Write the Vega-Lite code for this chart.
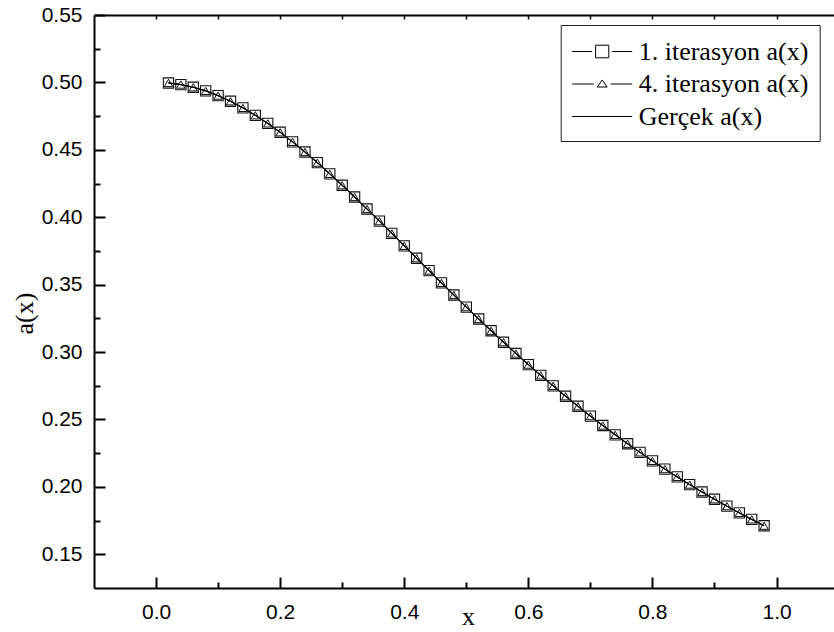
{
  "$schema": "https://vega.github.io/schema/vega-lite/v6.json",
  "width": 740,
  "height": 573,
  "autosize": "none",
  "padding": {"left": 94, "top": 15, "right": 0, "bottom": 44},
  "background": "white",
  "config": {
    "view": {"stroke": null},
    "axis": {
      "grid": false,
      "domainColor": "black",
      "domainWidth": 2,
      "tickColor": "black",
      "tickWidth": 2,
      "labelFont": "Liberation Sans",
      "labelFontSize": 21,
      "labelColor": "black",
      "titleFont": "Liberation Serif",
      "titleFontSize": 26,
      "titleFontWeight": "normal",
      "titleColor": "black"
    },
    "legend": {
      "labelColor": "black"
    }
  },
  "data": {
    "values": [
      {"x": 0.02, "iter1": 0.4996, "iter4": 0.4996, "gercek": 0.4996},
      {"x": 0.04, "iter1": 0.4984, "iter4": 0.4984, "gercek": 0.4984},
      {"x": 0.06, "iter1": 0.4964, "iter4": 0.4964, "gercek": 0.4964},
      {"x": 0.08, "iter1": 0.4937, "iter4": 0.4937, "gercek": 0.4937},
      {"x": 0.10, "iter1": 0.4902, "iter4": 0.4902, "gercek": 0.4902},
      {"x": 0.12, "iter1": 0.4860, "iter4": 0.4860, "gercek": 0.4860},
      {"x": 0.14, "iter1": 0.4811, "iter4": 0.4811, "gercek": 0.4811},
      {"x": 0.16, "iter1": 0.4756, "iter4": 0.4756, "gercek": 0.4756},
      {"x": 0.18, "iter1": 0.4696, "iter4": 0.4696, "gercek": 0.4696},
      {"x": 0.20, "iter1": 0.4630, "iter4": 0.4630, "gercek": 0.4630},
      {"x": 0.22, "iter1": 0.4559, "iter4": 0.4559, "gercek": 0.4559},
      {"x": 0.24, "iter1": 0.4484, "iter4": 0.4484, "gercek": 0.4484},
      {"x": 0.26, "iter1": 0.4405, "iter4": 0.4405, "gercek": 0.4405},
      {"x": 0.28, "iter1": 0.4322, "iter4": 0.4322, "gercek": 0.4322},
      {"x": 0.30, "iter1": 0.4237, "iter4": 0.4237, "gercek": 0.4237},
      {"x": 0.32, "iter1": 0.4150, "iter4": 0.4150, "gercek": 0.4150},
      {"x": 0.34, "iter1": 0.4061, "iter4": 0.4061, "gercek": 0.4061},
      {"x": 0.36, "iter1": 0.3971, "iter4": 0.3971, "gercek": 0.3971},
      {"x": 0.38, "iter1": 0.3880, "iter4": 0.3880, "gercek": 0.3880},
      {"x": 0.40, "iter1": 0.3788, "iter4": 0.3788, "gercek": 0.3788},
      {"x": 0.42, "iter1": 0.3696, "iter4": 0.3696, "gercek": 0.3696},
      {"x": 0.44, "iter1": 0.3604, "iter4": 0.3604, "gercek": 0.3604},
      {"x": 0.46, "iter1": 0.3513, "iter4": 0.3513, "gercek": 0.3513},
      {"x": 0.48, "iter1": 0.3423, "iter4": 0.3423, "gercek": 0.3423},
      {"x": 0.50, "iter1": 0.3333, "iter4": 0.3333, "gercek": 0.3333},
      {"x": 0.52, "iter1": 0.3245, "iter4": 0.3245, "gercek": 0.3245},
      {"x": 0.54, "iter1": 0.3158, "iter4": 0.3158, "gercek": 0.3158},
      {"x": 0.56, "iter1": 0.3073, "iter4": 0.3073, "gercek": 0.3073},
      {"x": 0.58, "iter1": 0.2989, "iter4": 0.2989, "gercek": 0.2989},
      {"x": 0.60, "iter1": 0.2907, "iter4": 0.2907, "gercek": 0.2907},
      {"x": 0.62, "iter1": 0.2827, "iter4": 0.2827, "gercek": 0.2827},
      {"x": 0.64, "iter1": 0.2749, "iter4": 0.2749, "gercek": 0.2749},
      {"x": 0.66, "iter1": 0.2672, "iter4": 0.2672, "gercek": 0.2672},
      {"x": 0.68, "iter1": 0.2598, "iter4": 0.2598, "gercek": 0.2598},
      {"x": 0.70, "iter1": 0.2525, "iter4": 0.2525, "gercek": 0.2525},
      {"x": 0.72, "iter1": 0.2455, "iter4": 0.2455, "gercek": 0.2455},
      {"x": 0.74, "iter1": 0.2386, "iter4": 0.2386, "gercek": 0.2386},
      {"x": 0.76, "iter1": 0.2320, "iter4": 0.2320, "gercek": 0.2320},
      {"x": 0.78, "iter1": 0.2256, "iter4": 0.2256, "gercek": 0.2256},
      {"x": 0.80, "iter1": 0.2193, "iter4": 0.2193, "gercek": 0.2193},
      {"x": 0.82, "iter1": 0.2132, "iter4": 0.2132, "gercek": 0.2132},
      {"x": 0.84, "iter1": 0.2074, "iter4": 0.2074, "gercek": 0.2074},
      {"x": 0.86, "iter1": 0.2017, "iter4": 0.2017, "gercek": 0.2017},
      {"x": 0.88, "iter1": 0.1962, "iter4": 0.1962, "gercek": 0.1962},
      {"x": 0.90, "iter1": 0.1908, "iter4": 0.1908, "gercek": 0.1908},
      {"x": 0.92, "iter1": 0.1857, "iter4": 0.1857, "gercek": 0.1857},
      {"x": 0.94, "iter1": 0.1807, "iter4": 0.1807, "gercek": 0.1807},
      {"x": 0.96, "iter1": 0.1759, "iter4": 0.1759, "gercek": 0.1759},
      {"x": 0.98, "iter1": 0.1712, "iter4": 0.1712, "gercek": 0.1712}
    ]
  },
  "resolve": {"axis": {"x": "independent", "y": "independent"}},
  "layer": [
    {
      "mark": {"type": "line", "color": "black", "strokeWidth": 1.2},
      "encoding": {
        "x": {
          "field": "x", "type": "quantitative",
          "scale": {"domain": [-0.1, 1.0926], "nice": false, "zero": false},
          "axis": {
            "orient": "bottom",
            "title": "x",
            "titleX": 374, "titleY": 36,
            "titleAlign": "center", "titleBaseline": "alphabetic",
            "values": [0, 0.2, 0.4, 0.6, 0.8, 1.0],
            "format": ".1f",
            "tickSize": -11,
            "labelPadding": 24,
            "labelFlush": false,
            "labelOverlap": false
          }
        },
        "y": {
          "field": "gercek", "type": "quantitative",
          "scale": {"domain": [0.125, 0.55], "nice": false, "zero": false},
          "axis": {
            "orient": "left",
            "title": "a(x)",
            "titleAngle": -90,
            "titleX": -62, "titleY": 298,
            "titleAlign": "center", "titleBaseline": "alphabetic",
            "values": [0.15, 0.2, 0.25, 0.3, 0.35, 0.4, 0.45, 0.5, 0.55],
            "format": ".2f",
            "tickSize": -11,
            "labelPadding": 23,
            "labelFlush": false,
            "labelOverlap": false
          }
        }
      }
    },
    {
      "mark": {"type": "line", "color": "black", "strokeWidth": 1},
      "encoding": {
        "x": {
          "field": "x", "type": "quantitative",
          "scale": {"domain": [-0.1, 1.0926], "nice": false, "zero": false},
          "axis": {
            "orient": "top",
            "title": null,
            "labels": false,
            "values": [0, 0.1, 0.2, 0.3, 0.4, 0.5, 0.6, 0.7, 0.8, 0.9, 1.0],
            "tickSize": -4,
            "tickWidth": 1.5
          }
        },
        "y": {
          "field": "iter1", "type": "quantitative",
          "scale": {"domain": [0.125, 0.55], "nice": false, "zero": false},
          "axis": {
            "orient": "left",
            "title": null,
            "labels": false,
            "domain": false,
            "values": [0.175, 0.225, 0.275, 0.325, 0.375, 0.425, 0.475, 0.525],
            "tickSize": -6
          }
        }
      }
    },
    {
      "mark": {"type": "line", "color": "black", "strokeWidth": 1},
      "encoding": {
        "x": {
          "field": "x", "type": "quantitative",
          "scale": {"domain": [-0.1, 1.0926], "nice": false, "zero": false},
          "axis": {
            "orient": "bottom",
            "title": null,
            "labels": false,
            "domain": false,
            "values": [0.1, 0.3, 0.5, 0.7, 0.9],
            "tickSize": -6
          }
        },
        "y": {"field": "iter4", "type": "quantitative", "scale": {"domain": [0.125, 0.55], "nice": false, "zero": false}, "axis": null}
      }
    },
    {
      "mark": {"type": "point", "shape": "square", "filled": false, "color": "#111", "strokeWidth": 1.1, "size": 105, "opacity": 1},
      "encoding": {
        "x": {"field": "x", "type": "quantitative", "scale": {"domain": [-0.1, 1.0926], "nice": false, "zero": false}, "axis": null},
        "y": {"field": "iter1", "type": "quantitative", "scale": {"domain": [0.125, 0.55], "nice": false, "zero": false}, "axis": null}
      }
    },
    {
      "mark": {"type": "point", "shape": "triangle-up", "filled": false, "color": "#111", "strokeWidth": 1, "size": 70, "opacity": 1},
      "encoding": {
        "x": {"field": "x", "type": "quantitative", "scale": {"domain": [-0.1, 1.0926], "nice": false, "zero": false}, "axis": null},
        "y": {"field": "iter4", "type": "quantitative", "scale": {"domain": [0.125, 0.55], "nice": false, "zero": false}, "axis": null}
      }
    },
    {
      "transform": [{"fold": ["iter1", "iter4", "gercek"], "as": ["seri", "a"]}],
      "mark": {"type": "point", "filled": false, "color": "black", "opacity": 0},
      "encoding": {
        "x": {"field": "x", "type": "quantitative", "scale": {"domain": [-0.1, 1.0926], "nice": false, "zero": false}, "axis": null},
        "y": {"field": "a", "type": "quantitative", "scale": {"domain": [0.125, 0.55], "nice": false, "zero": false}, "axis": null},
        "shape": {
          "field": "seri", "type": "nominal",
          "scale": {
            "domain": ["iter1", "iter4", "gercek"],
            "range": [
              "M-2,0H-0.667M0.667,0H2M-0.44,-0.42H0.44V0.42H-0.44Z",
              "M-2,0H-0.56M0.56,0H2M0,-0.27L0.33,0.2L-0.33,0.2Z",
              "M-2,0H2"
            ]
          },
          "legend": {
            "orient": "none",
            "legendX": 466.7,
            "legendY": 10,
            "title": null,
            "labelExpr": "datum.label == 'iter1' ? '1. iterasyon a(x)' : datum.label == 'iter4' ? '4. iterasyon a(x)' : 'Gerçek a(x)'",
            "labelFont": "Liberation Serif",
            "labelFontSize": 26,
            "labelLimit": 400,
            "labelOffset": 21,
            "symbolSize": 900,
            "symbolOffset": 15,
            "symbolStrokeColor": "black",
            "symbolStrokeWidth": 1,
            "symbolFillColor": "white",
            "rowPadding": 3.5,
            "padding": 11,
            "strokeColor": "#222",
            "fillColor": "white"
          }
        }
      }
    }
  ]
}
